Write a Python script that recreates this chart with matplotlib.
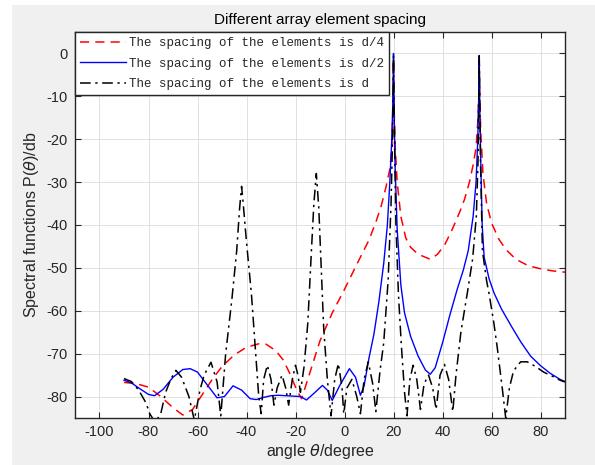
#!/usr/bin/env python3
# -*- coding: utf-8 -*-
"""
MUSIC spectrum for different array element spacing
"""

import matplotlib
matplotlib.use('Agg')
import matplotlib.pyplot as plt
from matplotlib.patches import Rectangle

# spacing d/4
red_deg = [-90, -85, -80, -75, -70, -66, -62, -58, -54, -50, -45, -40, -35, -32,
           -28, -25, -22, -19.5, -17.5, -15, -10, -5, 0, 5, 10, 13, 15, 17, 18.5,
           19.3, 19.7, 20, 20.3, 20.7, 21.5, 23, 25, 27, 30, 35, 38, 41, 44, 47,
           49, 51, 52.5, 53.7, 54.4, 54.8, 55, 55.2, 55.6, 56.5, 58, 60, 63, 66,
           70, 75, 80, 85, 90]
red_db = [-76.7, -77.0, -77.8, -80.0, -82.6, -84.3, -83.0, -79.5, -76.0, -73.0,
          -70.3, -68.5, -67.7, -67.8, -69.3, -71.5, -75.0, -78.5, -80.5, -76.0,
          -67.0, -60.5, -55.0, -49.2, -43.5, -39.0, -35.5, -31.0, -27.0, -22.0,
          -14.0, -1.5, -14.0, -22.0, -30.0, -38.0, -43.0, -45.2, -46.8, -48.0,
          -46.8, -44.5, -41.0, -37.0, -34.0, -30.0, -26.0, -22.0, -16.0, -10.0,
          -2.0, -10.0, -18.0, -28.0, -35.0, -39.5, -43.3, -45.8, -48.0, -49.5,
          -50.2, -50.7, -51.0]

# spacing d/2
blue_deg = [-90, -87, -84, -80, -77.5, -74, -70, -66, -63, -60, -56, -52, -49,
            -45.5, -42, -38.5, -36, -33, -30, -27, -24, -21, -18, -15.5, -12, -9,
            -7, -5, -2, 2, 4.5, 6.5, 8, 10, 12, 14, 16, 17.5, 18.5, 19.3, 19.7,
            20, 20.3, 20.7, 21.5, 23, 24.5, 27, 30, 33, 35, 37, 40, 43, 46, 48.5,
            50.5, 52.5, 53.7, 54.4, 54.8, 55, 55.2, 55.6, 56.2, 57, 59, 61, 64,
            68, 72, 76, 80, 84, 88, 90]
blue_db = [-76.2, -76.8, -78.0, -79.5, -79.8, -78.3, -75.5, -73.7, -73.5, -74.3,
           -77.3, -80.3, -80.0, -77.5, -78.5, -80.5, -80.7, -80.2, -79.8, -79.7,
           -79.8, -79.9, -80.0, -80.8, -79.0, -77.4, -78.5, -80.9, -77.5, -73.5,
           -75.5, -79.7, -77.5, -71.0, -65.5, -58.0, -49.0, -40.0, -30.0, -20.0,
           -12.0, 0.0, -15.0, -27.0, -41.0, -54.0, -60.5, -66.0, -70.5, -73.8,
           -74.8, -73.3, -67.5, -61.0, -55.0, -50.5, -46.0, -38.0, -30.0, -20.0,
           -10.0, -0.5, -12.0, -25.0, -40.0, -47.5, -52.5, -55.8, -59.5, -63.5,
           -67.3, -70.6, -72.8, -74.6, -76.0, -76.5]

# spacing d
black_deg = [-90, -87, -84, -81, -79.5, -77.3, -75, -73, -70.8, -68.8, -66.5,
             -63.5, -61.3, -59, -57.3, -54.5, -52, -50.5, -48.5, -46, -44, -42.8,
             -42, -41.2, -40, -38, -36.5, -35, -34, -33, -31.5, -30, -28.8, -27.5,
             -25.5, -24, -22.8, -21.3, -20, -19, -18, -16.5, -15, -13.5, -12.5,
             -11.5, -10.5, -9.5, -8.5, -7, -5.5, -4, -2.5, -1, -0.3, 1, 3, 5, 6.5,
             8, 9.7, 11.5, 12.8, 14.5, 16, 17.8, 19, 19.6, 20, 20.4, 21, 22, 23.2,
             24.5, 25.5, 26.7, 28, 29.5, 31, 32.5, 34.3, 36, 37.4, 39, 40.8, 42.5,
             44.2, 45.5, 47.5, 50.2, 52.3, 53.8, 54.5, 55, 55.5, 56.3, 58, 59, 61,
             62.4, 64.4, 65.8, 67.3, 69, 71.9, 74.6, 78, 81.3, 85, 88, 90]
black_db = [-75.8, -76.5, -78.5, -81.5, -84.0, -86.0, -84.0, -79.0, -75.8, -73.9,
            -75.5, -80.0, -85.5, -78.5, -75.0, -72.0, -76.6, -84.5, -70.0, -57.5,
            -46.0, -36.0, -31.0, -36.0, -44.0, -56.0, -68.0, -80.0, -84.0, -76.0,
            -72.7, -76.0, -82.0, -78.0, -75.0, -78.0, -82.0, -76.0, -72.7, -75.0,
            -79.0, -73.0, -63.0, -46.0, -35.0, -28.0, -36.0, -50.0, -64.0, -76.0,
            -84.5, -76.0, -72.3, -78.0, -84.0, -78.0, -76.0, -80.0, -84.0, -76.0,
            -71.9, -77.0, -83.5, -74.0, -67.5, -53.0, -35.0, -20.0, -0.5, -20.0,
            -40.0, -56.0, -68.0, -79.0, -84.5, -76.0, -72.7, -76.0, -83.0, -77.0,
            -75.0, -78.0, -83.0, -75.0, -72.5, -76.0, -83.5, -75.0, -65.0, -55.6,
            -47.9, -38.0, -25.0, -0.5, -25.0, -46.0, -53.0, -56.0, -63.0, -68.8,
            -78.1, -85.0, -78.0, -74.0, -71.9, -71.9, -73.0, -74.3, -75.3, -76.2,
            -76.6]

labels = ['The spacing of the elements is d/4',
          'The spacing of the elements is d/2',
          'The spacing of the elements is d']
xticks = [-100, -80, -60, -40, -20, 0, 20, 40, 60, 80]
yticks = [-80, -70, -60, -50, -40, -30, -20, -10, 0]

plt.rcParams['font.family'] = ['Liberation Sans', 'DejaVu Sans']
plt.rcParams['axes.unicode_minus'] = False
fig = plt.figure(figsize=(5.95, 4.65), dpi=100, facecolor='white')
# MATLAB-like grey window background
fig.patches.append(Rectangle((12 / 595, 0), 1, 1 - 5 / 465,
                             transform=fig.transFigure, facecolor='#f0f0f0',
                             edgecolor='none', zorder=-10))
ax = fig.add_axes([75 / 595, 1 - 418 / 465, 490 / 595, 386 / 465])

ax.plot(red_deg, red_db, color='#ff0000', linestyle=(0, (6, 4)), lw=1.1,
        label=labels[0])
ax.plot(blue_deg, blue_db, color='#0000ff', linestyle='-', lw=1.0,
        label=labels[1])
ax.plot(black_deg, black_db, color='black', linestyle=(0, (7, 3, 1.5, 3)),
        lw=1.1, label=labels[2])

ax.set_xlim(-110, 90)
ax.set_ylim(-85, 5)
ax.set_xticks(xticks)
ax.set_yticks(yticks)
ax.tick_params(direction='in', top=True, right=True, labelsize=10.5,
               colors='#262626', length=4, pad=5)
ax.grid(True, color='#dcdcdc', lw=0.6)
for sp in ax.spines.values():
    sp.set_color('#262626')
    sp.set_linewidth(1.0)

ax.set_title('Different array element spacing', fontsize=11, color='black',
             pad=6)
ax.set_xlabel(r'angle $\theta$/degree', fontsize=11.5, color='#262626',
              labelpad=2)
ax.set_ylabel(r'Spectral functions P($\theta$)/db', fontsize=11.5,
              color='#262626', labelpad=4)

leg = ax.legend(loc='upper left', borderaxespad=0, handlelength=3.7,
                prop={'family': 'Liberation Mono', 'size': 9},
                fancybox=False, framealpha=1, edgecolor='#262626',
                labelspacing=0.7, borderpad=0.4, handletextpad=0.25)
leg.get_frame().set_linewidth(1.0)
for t in leg.get_texts():
    t.set_color('#262626')

fig.savefig('out.png', dpi=100, facecolor=fig.get_facecolor())
